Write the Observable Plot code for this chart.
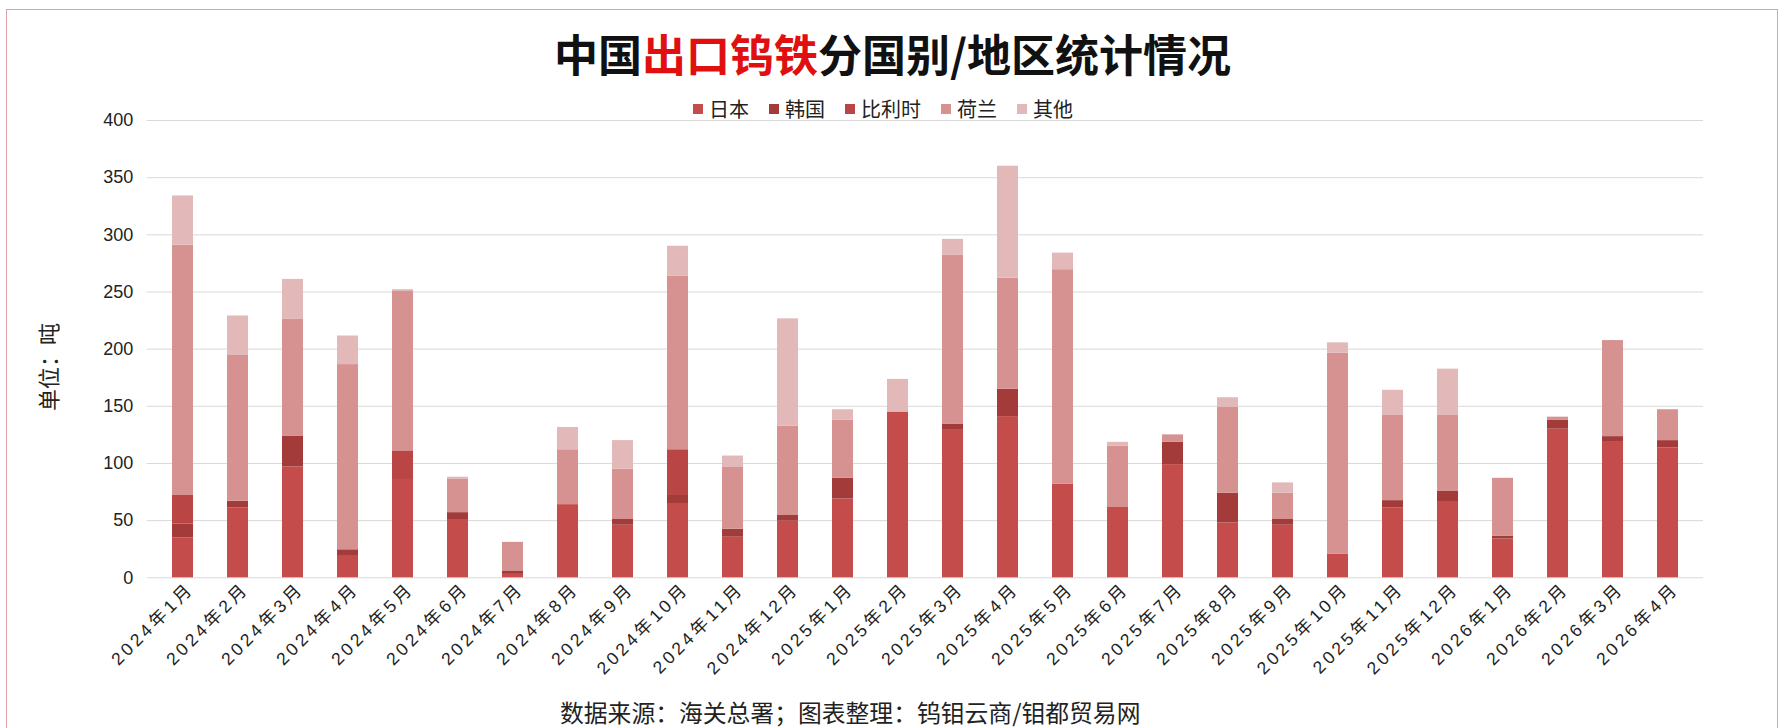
<!DOCTYPE html>
<html>
<head>
<meta charset="utf-8">
<script src="https://cdn.jsdelivr.net/npm/d3@7"></script>
<script src="https://cdn.jsdelivr.net/npm/@observablehq/plot@0.6"></script>
<style>
  html, body { margin: 0; padding: 0; background: #ffffff; }
  #wrap { position: relative; width: 1785px; height: 728px; overflow: hidden; font-family: "Liberation Sans", "Noto Sans CJK SC", sans-serif; }
  #border { position: absolute; left: 6px; top: 9px; width: 1772px; height: 740px; border: 1.5px solid #dba3a3; box-sizing: border-box; }
  #chart { position: absolute; left: 0; top: 0; }
  #title { position: absolute; left: 0; width: 1785px; top: 23px; text-align: center; font-family: "Noto Sans CJK SC", sans-serif; font-weight: 700; font-size: 44px; line-height: 60px; color: #111; }
  #title .red { color: #e01010; }
  #legend { position: absolute; left: 693px; top: 96px; display: flex; align-items: center; font-family: "Noto Sans CJK SC", sans-serif; font-size: 20px; line-height: 26px; color: #222; }
  #legend .item { display: flex; align-items: center; margin-right: 20px; }
  #legend .item:last-child { margin-right: 0; }
  #legend .sw { width: 10px; height: 10px; margin-right: 6px; }
  #ylabel { position: absolute; left: 47px; top: 367px; transform: translate(-50%, -50%) rotate(-90deg); font-family: "Noto Sans CJK SC", sans-serif; font-size: 22px; color: #222; white-space: nowrap; }
  #caption { position: absolute; left: 560px; top: 697px; font-family: "Noto Sans CJK SC", sans-serif; font-size: 23.8px; line-height: 30px; color: #222; white-space: nowrap; }
  g[aria-label="x-axis tick label"] text { letter-spacing: 3.5px; }
</style>
</head>
<body>
<div id="wrap">
  <div id="chart"></div>
  <div id="border"></div>
  <div id="title">中国<span class="red">出口钨铁</span>分国别/地区统计情况</div>
  <div id="legend"></div>
  <div id="ylabel">单位：吨</div>
  <div id="caption">数据来源：海关总署；图表整理：钨钼云商/钼都贸易网</div>
</div>
<script>
const months = ["2024年1月","2024年2月","2024年3月","2024年4月","2024年5月","2024年6月","2024年7月","2024年8月","2024年9月","2024年10月","2024年11月","2024年12月","2025年1月","2025年2月","2025年3月","2025年4月","2025年5月","2025年6月","2025年7月","2025年8月","2025年9月","2025年10月","2025年11月","2025年12月","2026年1月","2026年2月","2026年3月","2026年4月"];
const countries = ["日本","韩国","比利时","荷兰","其他"];
const colors = ["#c44d4b","#a23b3a","#b94544","#d59291","#e2b8b8"];
const japan       = [35, 61, 97, 19.5, 86, 51, 3, 64, 46, 65, 35.5, 49.5, 69, 145, 129, 141, 82, 61.5, 99, 48, 46, 20.5, 61, 66, 34, 130, 118.5, 113.5];
const korea       = [12, 6, 27, 5, 0, 6, 3, 0, 5, 7, 7, 5, 18, 0, 5.5, 24, 0, 0, 19.5, 26, 5, 0, 6.5, 9.5, 2.5, 8, 5, 6.5];
const belgium     = [25, 0, 0, 0, 25, 0, 0, 0, 0, 40, 0, 0, 0, 0, 0, 0, 0, 0, 0, 0, 0, 0, 0, 0, 0, 0, 0, 0];
const netherlands = [219, 128, 102, 162, 140, 29, 25, 48, 44, 152, 54, 78, 51, 0, 147.5, 97, 187.5, 53.5, 6.5, 75, 23, 176, 74.5, 66.5, 50.5, 2.5, 84, 27];
const others      = [43, 34, 35, 25, 1, 2, 0, 19.5, 25, 26, 10, 94, 9, 28.5, 14, 98, 14.5, 3.5, 0, 8.5, 9, 9, 22, 40.5, 0, 0, 0, 0];
const yTicks = [0, 50, 100, 150, 200, 250, 300, 350, 400];

const series = [japan, korea, belgium, netherlands, others];
const data = [];
months.forEach((m, i) => {
  countries.forEach((c, k) => {
    data.push({month: m, country: c, value: series[k][i]});
  });
});

// legend
const lg = document.getElementById("legend");
countries.forEach((c, k) => {
  const it = document.createElement("div");
  it.className = "item";
  it.innerHTML = `<span class="sw" style="background:${colors[k]}"></span><span>${c}</span>`;
  lg.appendChild(it);
});

const chart = Plot.plot({
  width: 1785,
  height: 728,
  marginTop: 120,
  marginBottom: 150.7,
  marginLeft: 146.7,
  marginRight: 82,
  style: {fontFamily: "'Liberation Sans', 'Noto Sans CJK SC', sans-serif", background: "transparent", color: "#222"},
  x: {domain: months, paddingInner: 0.62, paddingOuter: 0.31, label: null},
  y: {domain: [0, 400], label: null},
  color: {domain: countries, range: colors},
  marks: [
    Plot.gridY(yTicks, {stroke: "#d9d9d9", strokeOpacity: 1, strokeWidth: 1}),
    Plot.axisY(yTicks, {tickSize: 0, tickPadding: 14, fontSize: 18, fill: "#222", label: null}),
    Plot.barY(data, Plot.stackY({x: "month", y: "value", fill: "country", order: countries})),
    Plot.axisX({tickSize: 0, tickRotate: -45, tickPadding: 8, dx: 8, fontSize: 17.5, fill: "#222", label: null})
  ]
});
document.getElementById("chart").appendChild(chart);
</script>
</body>
</html>
